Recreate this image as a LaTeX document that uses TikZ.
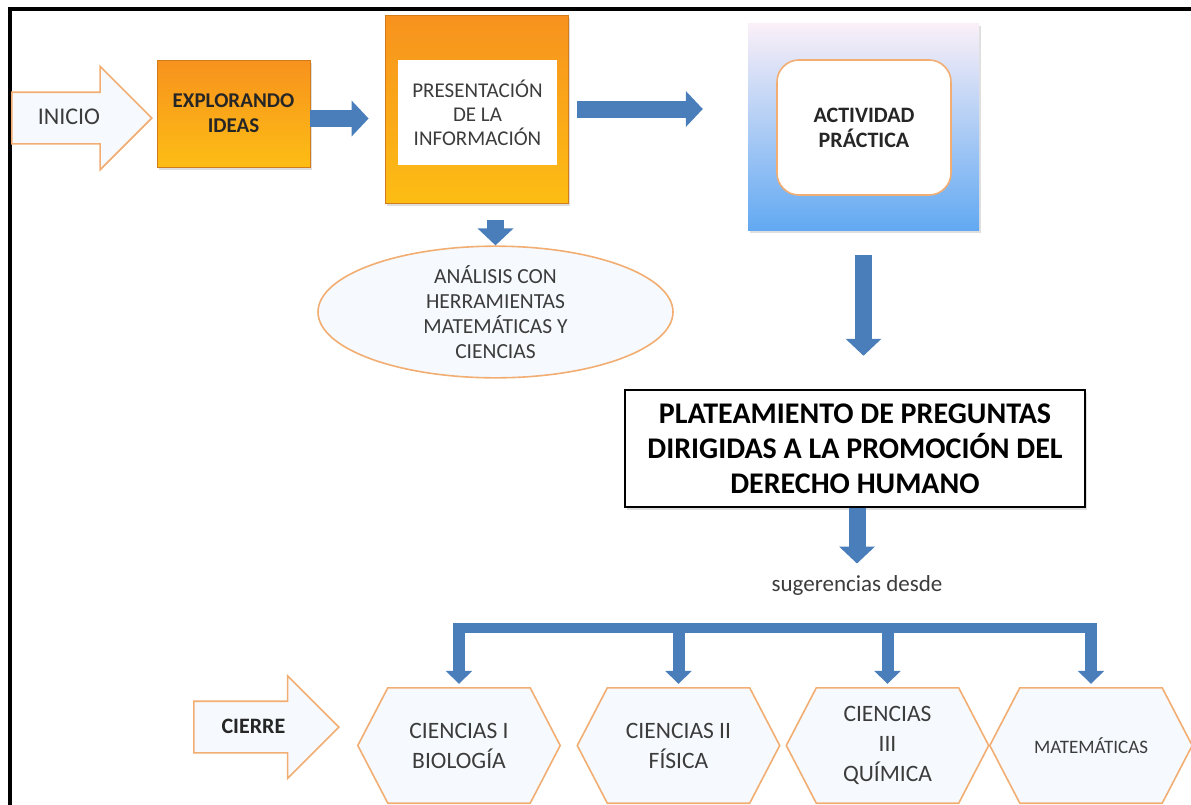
\documentclass[tikz,border=0pt]{standalone}
\usepackage{fontspec}
\setmainfont{Carlito}
\usetikzlibrary{positioning}
\usetikzlibrary{calc}
\usetikzlibrary{arrows.meta}
\usetikzlibrary{shapes.geometric, shapes.arrows}
\usetikzlibrary{shadows, backgrounds}

\definecolor{arrowblue}{HTML}{4A7EBB}
\definecolor{edgeorange}{HTML}{F2AE72}
\definecolor{textgray}{HTML}{3C3C3C}
\definecolor{boxorange}{HTML}{F7921E}
\definecolor{boxgold}{HTML}{FDBD14}
\definecolor{skyblue}{HTML}{62A9F2}
\definecolor{midblue}{HTML}{B9DAF9}
\definecolor{paleblush}{HTML}{FBF0F8}
\definecolor{lightfill}{HTML}{F6FAFE}

\tikzset{
  bigarrow/.style={draw=arrowblue, line width=17pt, -{Triangle[width=35pt,length=17pt]}},
  branch/.style={draw=arrowblue, line width=10pt},
  brancharrow/.style={draw=arrowblue, line width=12pt, -{Triangle[width=26pt,length=13pt]}},
  softshadow/.style={drop shadow={opacity=0.25, shadow xshift=2pt, shadow yshift=-3pt}},
  orangebox/.style={rectangle, draw=boxorange!85!black, line width=0.8pt, top color=boxorange, bottom color=boxgold, softshadow},
  bluebox/.style={rectangle, top color=paleblush, middle color=midblue, bottom color=skyblue, softshadow},
  paleshape/.style={draw=edgeorange, line width=1.6pt, fill=lightfill},
  hollowarrow/.style={single arrow, paleshape, single arrow tip angle=90, single arrow head indent=0pt,
    text height=17pt, text depth=5pt, inner ysep=14pt, inner xsep=10pt},
  plain/.style={text=textgray, align=center},
  hexnode/.style={plain, minimum width=202pt, minimum height=115pt, inner sep=0pt, font=\fontsize{23.5}{30}\selectfont},
}

\begin{document}
\begin{tikzpicture}[x=1pt, y=-1pt]
  \useasboundingbox (0,0) rectangle (1191,804);
  % Frame
  \draw[line width=4pt] (10,9) rectangle (1240,840);

  % Start row
  \node[hollowarrow, anchor=tip, minimum height=140pt, single arrow head extend=26pt, plain, font=\fontsize{24}{28}\selectfont] (inicio) at (153,118) {INICIO};
  \node[orangebox, minimum width=153pt, minimum height=107pt, align=center, text=black!85, font=\bfseries\fontsize{21}{25}\selectfont] (explora) at (233.5,113.5) {EXPLORANDO\\IDEAS};
  \node[orangebox, minimum width=183pt, minimum height=188pt] (presen) at (476.5,109) {};
  \node[fill=white, minimum width=159pt, minimum height=105pt, inner sep=0pt, plain, font=\fontsize{21}{24}\selectfont] (presentxt) at (477.5,112.5) {PRESENTACIÓN\\DE LA\\INFORMACIÓN};
  \node[bluebox, minimum width=231pt, minimum height=207pt] (activ) at (863.5,126.5) {};
  \node[rounded corners=22pt, draw=edgeorange, line width=1.6pt, fill=white, minimum width=174pt, minimum height=135pt, align=center, text=black!85, font=\bfseries\fontsize{22}{25}\selectfont] (activtxt) at (864,127.5) {ACTIVIDAD\\PRÁCTICA};

  % Analysis
  \node[ellipse, paleshape, minimum width=355pt, minimum height=110pt, inner sep=0pt, plain, font=\fontsize{21.5}{25}\selectfont] (analisis) at (495.5,312) {ANÁLISIS CON\\HERRAMIENTAS\\MATEMÁTICAS Y\\CIENCIAS};

  % Questions
  \node[draw=black, line width=2.5pt, fill=white, softshadow, minimum width=460pt, minimum height=117pt, align=center, font=\bfseries\fontsize{30}{35}\selectfont] (plant) at (855,448.5) {PLATEAMIENTO DE PREGUNTAS\\DIRIGIDAS A LA PROMOCIÓN DEL\\DERECHO HUMANO};
  \node[plain, font=\fontsize{23}{27}\selectfont] (suger) at (857,585) {sugerencias desde};

  % Closing row
  \node[hollowarrow, anchor=tip, minimum height=145pt, single arrow head extend=25.5pt, text=black!85, font=\bfseries\fontsize{22}{26}\selectfont] (cierre) at (340,727) {CIERRE};
  \node[hexnode] (cbio) at (459,745.5) {CIENCIAS I\\BIOLOGÍA};
  \node[hexnode] (cfis) at (678.5,745.5) {CIENCIAS II\\FÍSICA};
  \node[hexnode] (cqui) at (887.5,745.5) {CIENCIAS\\III\\QUÍMICA};
  \node[hexnode, font=\fontsize{19}{23}\selectfont] (cmat) at (1091,745.5) {MATEMÁTICAS};
  \begin{scope}[on background layer]
    \foreach \h in {cbio,cfis,cqui,cmat}
      \draw[paleshape] (\h.west) -- ([xshift=30pt]\h.north west) -- ([xshift=-30pt]\h.north east)
        -- (\h.east) -- ([xshift=-30pt]\h.south east) -- ([xshift=30pt]\h.south west) -- cycle;
  \end{scope}

  % Arrows
  \draw[bigarrow, shorten >=16pt] ([yshift=-5pt]explora.east) -- ([yshift=-5pt]explora.east -| presen.west);
  \draw[bigarrow, shorten <=9pt, shorten >=45pt] (presen.east) -- (presen.east -| activ.west);
  \draw[bigarrow, shorten <=17pt] (presen.south -| analisis.north) -- (analisis.north);
  \draw[bigarrow, shorten <=25pt, shorten >=33pt] (activ.south) -- (activ.south |- plant.north);
  \draw[bigarrow, shorten >=8pt] (plant.south -| suger.north) -- (suger.north);

  % Branches
  \coordinate (busL) at (cbio.north |- 0,627.5);
  \coordinate (busR) at (cmat.north |- 0,627.5);
  \draw[branch] ([xshift=-6pt]busL) -- ([xshift=6pt]busR);
  \foreach \h in {cbio,cfis,cqui,cmat}
    \draw[brancharrow, shorten >=4pt] (busL -| \h.north) -- (\h.north);
\end{tikzpicture}
\end{document}
